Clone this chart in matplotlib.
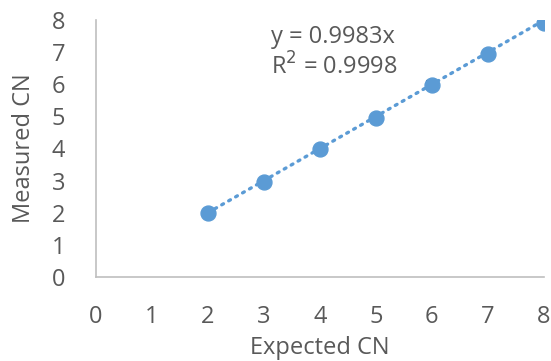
import numpy as np
import matplotlib.pyplot as plt

plt.rcParams['font.family'] = ['Open Sans', 'DejaVu Sans']

# expected vs measured copy number
expected = [2, 3, 4, 5, 6, 7, 8]
measured = [2.0, 2.95, 3.97, 4.96, 5.97, 6.93, 7.9]
err6 = 0.12
slope = 0.9983
r2 = 0.9998

blue = '#5B9BD5'
grey = '#595959'

fig = plt.figure(figsize=(5.51, 3.61), dpi=100)
ax = fig.add_axes([0.174, 0.233, 0.813, 0.712])

# small error bar at x=6
ax.errorbar([6], [measured[4]], yerr=err6, fmt='none', ecolor='#404040',
            capsize=4, elinewidth=1, capthick=1.5, zorder=2)

xt = np.array([2, 8])
ax.plot(xt, slope * xt, linestyle=(0, (0.6, 1.8)), color=blue, linewidth=2.4,
        dash_capstyle='round', zorder=3)
ax.scatter(expected, measured, s=115, color=blue, zorder=4)

ax.set_xlim(0, 8)
ax.set_ylim(0, 8)
ax.set_xticks(range(0, 9))
ax.set_yticks(range(0, 9))
ax.tick_params(length=0, labelsize=17, labelcolor=grey)
ax.tick_params(axis='x', pad=20)
ax.tick_params(axis='y', pad=22)
for s in ['top', 'right']:
    ax.spines[s].set_visible(False)
for s in ['left', 'bottom']:
    ax.spines[s].set_color('#BFBFBF')
    ax.spines[s].set_linewidth(1.2)

ax.set_xlabel('Expected CN', fontsize=17, color=grey, labelpad=5)
ax.set_ylabel('Measured CN', fontsize=17, color=grey, labelpad=11)

ax.text(3.12, 7.85, f'y = {slope}x\nR$^2$ = {r2}', fontsize=17, color=grey,
        linespacing=1.2, va='top')

fig.savefig('out.png', dpi=100)
